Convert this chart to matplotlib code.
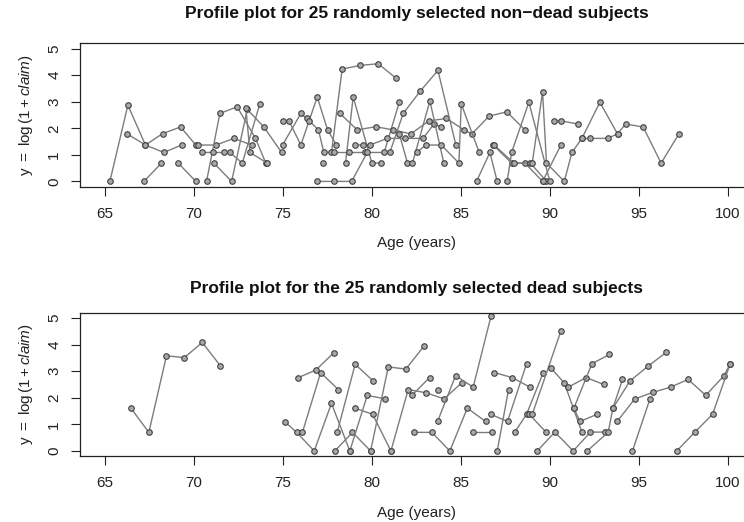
import matplotlib
matplotlib.use('Agg')
import matplotlib.pyplot as plt

# ---------------- data (age in years, y = log(1 + claim)) ----------------
x_ticks = [65, 70, 75, 80, 85, 90, 95, 100]
y_ticks = [0, 1, 2, 3, 4, 5]

title_top = "Profile plot for 25 randomly selected non\u2212dead subjects"
title_bottom = "Profile plot for the 25 randomly selected dead subjects"
x_label = "Age (years)"
y_label = r"$\mathrm{y\ =\ log\,(1+}\mathit{claim}\mathrm{)}$"

alive_age = [
    [65.28, 66.29, 67.28, 68.24, 69.25, 70.11],
    [66.25, 67.28, 68.31, 69.31],
    [70.24, 71.24, 72.25, 73.24],
    [67.19, 68.18],
    [69.12, 70.11],
    [71.12, 72.12, 73.0, 73.93, 74.93],
    [70.71, 71.46, 72.43, 73.46, 74.04],
    [70.47, 71.05, 71.70, 72.02, 72.72, 73.71],
    [72.92, 73.15, 74.12],
    [74.98, 75.34, 76.01, 76.93, 77.51, 78.01],
    [78.52, 78.95, 80.0, 80.51],
    [74.98, 76.01, 76.33, 76.48, 77.0, 77.30],
    [77.27],
    [77.73, 78.33, 79.34, 80.36, 81.33],
    [77.87, 78.73, 79.61],
    [76.89, 77.87, 78.86, 79.74, 80.69, 81.54],
    [78.20, 79.18, 80.21, 81.20, 82.19, 83.20, 84.19, 85.17, 85.62, 86.59, 87.58, 88.60],
    [79.04, 79.51, 79.89, 80.86, 81.87, 82.88, 83.48, 83.90],
    [81.01, 81.76, 82.73, 83.71, 84.72],
    [81.54, 82.0, 82.28, 83.26, 84.04],
    [82.51, 83.03, 83.90, 84.89, 85.02, 86.03],
    [85.88, 86.63, 87.04],
    [86.82, 87.85, 88.60, 89.59],
    [86.87, 87.98, 88.91, 89.81],
    [87.60, 87.85, 88.82, 90.0],
    [89.01, 89.59, 89.81, 90.81, 91.24, 91.80, 92.81, 93.80],
    [90.24, 90.62, 91.59],
    [89.59, 90.62],
    [91.80, 92.25, 93.24, 93.80, 94.25, 95.24, 96.25, 97.25],
]
alive_y = [
    [0, 2.87, 1.37, 1.80, 2.05, 1.37],
    [1.79, 1.37, 1.09, 1.37],
    [1.37, 1.37, 1.62, 1.37],
    [0, 0.69],
    [0.69, 0],
    [0.69, 0, 2.71, 2.05, 1.09],
    [0, 2.56, 2.81, 1.62, 0.69],
    [1.09, 1.09, 1.09, 1.09, 0.69, 2.93],
    [2.77, 1.09, 0.69],
    [2.28, 2.28, 1.37, 3.18, 1.94, 1.37],
    [0.69, 3.18, 0.69, 0.69],
    [1.37, 2.56, 2.37, 2.28, 1.94, 1.09],
    [0.69],
    [1.09, 4.23, 4.37, 4.43, 3.90],
    [1.09, 1.09, 1.09],
    [0, 0, 0, 1.09, 1.09, 2.98],
    [2.56, 1.94, 2.06, 1.94, 1.79, 2.28, 2.37, 1.94, 1.79, 2.46, 2.62, 1.94],
    [1.37, 1.37, 1.37, 1.62, 1.62, 1.62, 2.16, 2.05],
    [1.09, 2.56, 3.41, 4.18, 1.37],
    [1.79, 0.69, 0.69, 3.03, 0.69],
    [1.09, 1.37, 1.37, 0.69, 2.92, 1.09],
    [0, 1.09, 0],
    [1.37, 0.69, 0.69, 0],
    [1.37, 0.69, 0.69, 0],
    [0, 1.09, 2.98, 0],
    [0.69, 3.37, 0.69, 0, 1.09, 1.62, 2.98, 1.79],
    [2.28, 2.28, 2.16],
    [0, 1.37],
    [1.62, 1.62, 1.62, 1.79, 2.16, 2.05, 0.69, 1.79],
]

dead_age = [
    [66.46, 67.47, 68.46, 69.46, 70.47, 71.48],
    [75.11, 75.77, 76.76, 77.73, 78.76],
    [76.10, 77.12, 78.11],
    [75.86, 76.85, 77.87],
    [78.05, 79.06, 80.06],
    [77.92, 78.91, 79.93],
    [78.76, 79.74, 80.75],
    [79.04, 80.04, 81.07],
    [79.93, 80.92, 81.91, 82.92],
    [81.07, 82.04, 83.03, 84.06, 85.04],
    [82.25, 83.24],
    [83.71],
    [83.69, 84.70, 85.69, 86.69],
    [82.36, 83.37, 84.38, 85.36, 86.39],
    [85.69, 86.74],
    [86.67, 87.62, 88.69],
    [86.87, 87.88, 88.88],
    [87.04, 87.68],
    [88.03, 88.69, 89.63],
    [88.84, 89.78],
    [89.29, 90.28, 91.31, 92.28, 93.11],
    [89.01, 90.62],
    [90.04, 90.81, 91.80],
    [91.35, 91.69, 92.66],
    [91.03, 92.04, 93.03],
    [91.35, 92.36, 93.35],
    [92.10, 93.28, 93.54, 94.08],
    [93.54, 94.51, 95.54, 96.54],
    [93.78, 94.76, 95.77, 96.78, 97.77, 98.76, 99.78, 100.13],
    [94.64, 95.62],
    [97.13, 98.15, 99.14, 100.13],
]
dead_y = [
    [1.61, 0.70, 3.58, 3.51, 4.08, 3.21],
    [1.10, 0.70, 0, 1.79, 0],
    [0.70, 2.95, 2.31],
    [2.76, 3.04, 3.70],
    [0.70, 3.26, 2.64],
    [0, 0.70, 0],
    [0, 2.09, 1.96],
    [1.61, 1.38, 0],
    [0, 3.16, 3.08, 3.94],
    [0, 2.31, 2.19, 1.96, 2.56],
    [2.09, 2.76],
    [2.31],
    [1.11, 2.83, 2.40, 5.06],
    [0.70, 0.70, 0, 1.61, 1.11],
    [0.70, 0.70],
    [1.38, 1.11, 3.28],
    [2.95, 2.76, 2.40],
    [0, 2.31],
    [0.71, 1.38, 2.95],
    [1.38, 0.71],
    [0, 0.71, 0, 0.71, 0.71],
    [1.38, 4.51],
    [3.13, 2.56, 0.71],
    [1.61, 1.11, 1.38],
    [2.40, 2.76, 2.50],
    [1.61, 3.28, 3.63],
    [0, 0.71, 1.61, 2.69],
    [1.61, 2.64, 3.20, 3.71],
    [1.11, 1.95, 2.20, 2.40, 2.69, 2.09, 2.83, 3.28],
    [0, 1.95],
    [0, 0.71, 1.38, 3.28],
]

# ---------------- style ----------------
plt.rcParams['font.family'] = ['Liberation Sans', 'DejaVu Sans']
plt.rcParams['mathtext.fontset'] = 'custom'
plt.rcParams['mathtext.rm'] = 'Liberation Sans'
plt.rcParams['mathtext.it'] = 'Liberation Sans:italic'

fig = plt.figure(figsize=(7.44, 5.22), dpi=100)
ax_top = fig.add_axes([0.1075, 0.6423, 0.9043, 0.2747])
ax_bot = fig.add_axes([0.1075, 0.1259, 0.9043, 0.2751])


def panel(ax, ages, vals, title, title_pad):
    for a, v in zip(ages, vals):
        ax.plot(a, v, color='#7c7c7c', lw=1.0, marker='o', ms=4.0,
                mfc='#a8a8a8', mec='#404040', mew=0.8, zorder=2)
    ax.set_xlim(63.6, 101.4)
    ax.set_ylim(-0.2, 5.2)
    ax.set_xticks(x_ticks)
    ax.set_xticklabels([str(t) for t in x_ticks])
    ax.set_yticks(y_ticks)
    ax.set_yticklabels([str(t) for t in y_ticks], rotation=90, va='center')
    ax.tick_params(direction='out', length=6.5, width=0.8, colors='#222222',
                   labelsize=11, labelcolor='#222222')
    ax.tick_params(axis='x', pad=8)
    ax.tick_params(axis='y', pad=7)
    for s in ax.spines.values():
        s.set_linewidth(0.9)
        s.set_color('#222222')
    ax.set_title(title, fontsize=12.5, fontweight='bold', pad=title_pad, color='#111111')
    ax.set_xlabel(x_label, fontsize=11, labelpad=11, color='#222222')
    ax.set_ylabel(y_label, fontsize=11, labelpad=9, color='#222222')


panel(ax_top, alive_age, alive_y, title_top, 18)
panel(ax_bot, dead_age, dead_y, title_bottom, 14)

fig.savefig('out.png', dpi=100)
